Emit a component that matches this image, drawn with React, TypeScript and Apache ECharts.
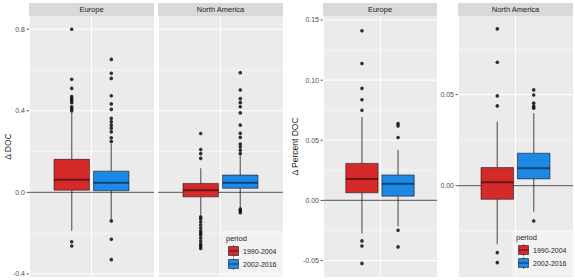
import React, { useEffect, useRef } from "react";
import * as echarts from "echarts";

// ---------- data ----------
const periods = ["1990-2004", "2002-2016"];
const regions = ["Europe", "North America"];

// box stats per period: [lower whisker, Q1, median, Q3, upper whisker]
const docEuropeStats = [
  [-0.188, 0.011, 0.062, 0.162, 0.39],
  [-0.132, 0.008, 0.047, 0.104, 0.24],
];
const docEuropeOutliers = [
  [0.8, 0.555, 0.51, 0.47, 0.46, 0.45, 0.44, 0.42, 0.41, 0.4, -0.242, -0.263],
  [0.652, 0.584, 0.559, 0.474, 0.434, 0.407, 0.363, 0.346, 0.33, 0.315, 0.297, 0.268, 0.25, -0.14, -0.23, -0.33],
];
const docNorthAmericaStats = [
  [-0.11, -0.022, 0.011, 0.044, 0.118],
  [-0.078, 0.02, 0.047, 0.085, 0.18],
];
const docNorthAmericaOutliers = [
  [0.289, 0.21, 0.19, 0.167, -0.12, -0.13, -0.145, -0.16, -0.175, -0.19, -0.2, -0.21, -0.225, -0.24, -0.255, -0.265, -0.275],
  [0.587, 0.502, 0.46, 0.44, 0.42, 0.39, 0.33, 0.29, 0.27, 0.237, 0.224, 0.207, 0.19, -0.082, -0.09, -0.1],
];
const pctEuropeStats = [
  [-0.0275, 0.0064, 0.0179, 0.0308, 0.0694],
  [-0.0215, 0.0036, 0.0138, 0.0212, 0.0419],
];
const pctEuropeOutliers = [
  [0.141, 0.1138, 0.0932, 0.0837, 0.075, -0.0336, -0.0378, -0.0523],
  [0.0639, 0.062, 0.0523, -0.0248, -0.0386],
];
const pctNorthAmericaStats = [
  [-0.0322, -0.0075, 0.0019, 0.0099, 0.0352],
  [-0.0143, 0.0037, 0.0096, 0.0178, 0.0398],
];
const pctNorthAmericaOutliers = [
  [0.0861, 0.0678, 0.0493, 0.0438, -0.0368, -0.0423],
  [0.0526, 0.0498, 0.0453, 0.0436, 0.0425, -0.0194],
];

// axis limits and ticks
const docLimits = [-0.415, 0.865];
const docMajor = [-0.4, 0.0, 0.4, 0.8];
const docMinor = [-0.2, 0.2, 0.6];
const pctEuLimits = [-0.0636, 0.1533];
const pctEuMajor = [-0.05, 0.0, 0.05, 0.1, 0.15];
const pctEuMinor = [-0.025, 0.025, 0.075, 0.125];
const pctNaLimits = [-0.0502, 0.0932];
const pctNaMajor = [0.0, 0.05];
const pctNaMinor = [-0.025, 0.025, 0.075];

const dodge = [-0.19, 0.19];

// ---------- style ----------
const FILLS = ["#D42A2A", "#1E88E5"];
const STROKE = "rgba(0,0,0,0.5)";
const BOX_W = 0.34;
const FONT = "Liberation Sans, Arial, sans-serif";

const panels = [
  { left: 29, width: 125, stats: docEuropeStats, out: docEuropeOutliers, lim: docLimits, major: docMajor, minor: docMinor, dec: 1, strip: regions[0], showAxis: true },
  { left: 158, width: 125, stats: docNorthAmericaStats, out: docNorthAmericaOutliers, lim: docLimits, major: docMajor, minor: docMinor, dec: 1, strip: regions[1], showAxis: false },
  { left: 323, width: 114, stats: pctEuropeStats, out: pctEuropeOutliers, lim: pctEuLimits, major: pctEuMajor, minor: pctEuMinor, dec: 2, strip: regions[0], showAxis: true },
  { left: 458, width: 115, stats: pctNorthAmericaStats, out: pctNorthAmericaOutliers, lim: pctNaLimits, major: pctNaMajor, minor: pctNaMinor, dec: 2, strip: regions[1], showAxis: true },
];
const titles = [
  { text: "Δ DOC", x: 8 },
  { text: "Δ Percent DOC", x: 295 },
];
const TOP = 16;
const HEIGHT = 261;

function renderBox(params: any, api: any) {
  const x = api.value(0);
  const lo = api.value(1), q1 = api.value(2), med = api.value(3), q3 = api.value(4), hi = api.value(5);
  const ci = api.value(6);
  const half = api.size([BOX_W, 0])[0] / 2;
  const cx = api.coord([x, lo])[0];
  const yLo = api.coord([x, lo])[1];
  const yQ1 = api.coord([x, q1])[1];
  const yMed = api.coord([x, med])[1];
  const yQ3 = api.coord([x, q3])[1];
  const yHi = api.coord([x, hi])[1];
  return {
    type: "group",
    children: [
      { type: "line", shape: { x1: cx, y1: yHi, x2: cx, y2: yQ3 }, style: { stroke: STROKE, lineWidth: 1.4 } },
      { type: "line", shape: { x1: cx, y1: yQ1, x2: cx, y2: yLo }, style: { stroke: STROKE, lineWidth: 1.4 } },
      { type: "rect", shape: { x: cx - half, y: yQ3, width: 2 * half, height: yQ1 - yQ3 }, style: { fill: FILLS[ci], stroke: STROKE, lineWidth: 1 } },
      { type: "line", shape: { x1: cx - half, y1: yMed, x2: cx + half, y2: yMed }, style: { stroke: STROKE, lineWidth: 2 } },
    ],
  };
}

function makeGridRenderer(dec: number, showAxis: boolean) {
  return function renderGrid(params: any, api: any) {
    const cs = params.coordSys;
    const kind = api.value(2);
    const v = api.value(1);
    const y = api.coord([api.value(0), v])[1];
    if (kind === 1) {
      return { type: "line", shape: { x1: cs.x, y1: y, x2: cs.x + cs.width, y2: y }, style: { stroke: "#ffffff", lineWidth: 0.5 } };
    }
    if (kind === 3) {
      return { type: "line", shape: { x1: cs.x, y1: y, x2: cs.x + cs.width, y2: y }, style: { stroke: "rgba(0,0,0,0.55)", lineWidth: 1.2 } };
    }
    const children: any[] = [
      { type: "line", shape: { x1: cs.x, y1: y, x2: cs.x + cs.width, y2: y }, style: { stroke: "#ffffff", lineWidth: 1.1 } },
    ];
    if (showAxis) {
      children.push(
        { type: "line", shape: { x1: cs.x - 2.5, y1: y, x2: cs.x, y2: y }, style: { stroke: "#333333", lineWidth: 0.8 } },
        { type: "text", style: { x: cs.x - 4, y, text: v.toFixed(dec), fontSize: 7, fontFamily: FONT, fill: "#4D4D4D", align: "right", verticalAlign: "middle" } },
      );
    }
    return { type: "group", children };
  };
}

function legendGraphic(x: number, y: number) {
  const children: any[] = [
    { type: "rect", shape: { x: 0, y: 0, width: 61, height: 46 }, style: { fill: "#F2F2F2" } },
    { type: "text", style: { x: 4, y: 7, text: "period", fontSize: 7.5, fontFamily: FONT, fill: "#1a1a1a", verticalAlign: "middle" } },
  ];
  periods.forEach((p, i) => {
    const cy = 20 + i * 13;
    children.push(
      { type: "line", shape: { x1: 11.5, y1: cy - 6, x2: 11.5, y2: cy + 6 }, style: { stroke: STROKE, lineWidth: 1 } },
      { type: "rect", shape: { x: 6.5, y: cy - 4.5, width: 10, height: 9 }, style: { fill: FILLS[i], stroke: STROKE, lineWidth: 1 } },
      { type: "line", shape: { x1: 6.5, y1: cy, x2: 16.5, y2: cy }, style: { stroke: STROKE, lineWidth: 1.2 } },
      { type: "text", style: { x: 21, y: cy, text: p, fontSize: 7, fontFamily: FONT, fill: "#1a1a1a", verticalAlign: "middle" } },
    );
  });
  return { type: "group", x, y, children, z: 100 };
}

export default function App() {
  const ref = useRef<HTMLDivElement>(null);
  useEffect(() => {
    if (!ref.current) return;
    const chart = echarts.init(ref.current, undefined, { renderer: "svg" });
    const grids: any[] = [];
    const xAxes: any[] = [];
    const yAxes: any[] = [];
    const series: any[] = [];
    const graphics: any[] = [];
    panels.forEach((p, i) => {
      grids.push({ left: p.left, top: TOP, width: p.width, height: HEIGHT, show: true, backgroundColor: "#EBEBEB", borderWidth: 0 });
      xAxes.push({
        gridIndex: i, type: "value", min: -0.6, max: 0.6, interval: 0.6, show: true,
        axisLine: { show: false }, axisTick: { show: false }, axisLabel: { show: false },
        splitLine: { show: true, lineStyle: { color: "#ffffff", width: 1.1 } },
      });
      yAxes.push({ gridIndex: i, type: "value", min: p.lim[0], max: p.lim[1], show: false, splitLine: { show: false } });
      const gridData: any[] = [];
      p.minor.forEach((v) => gridData.push([0, v, 1]));
      p.major.forEach((v) => gridData.push([0, v, 0]));
      gridData.push([0, 0, 3]);
      series.push({
        type: "custom", xAxisIndex: i, yAxisIndex: i, renderItem: makeGridRenderer(p.dec, p.showAxis),
        data: gridData, encode: { x: 0, y: 1 }, z: 1, silent: true, clip: false,
      });
      series.push({
        type: "custom", xAxisIndex: i, yAxisIndex: i, renderItem: renderBox,
        data: p.stats.map((s, k) => [dodge[k], ...s, k]), encode: { x: 0, y: [1, 2, 3, 4, 5] }, z: 3, silent: true,
      });
      const pts: number[][] = [];
      p.out.forEach((arr, k) => arr.forEach((v) => pts.push([dodge[k], v])));
      series.push({
        type: "scatter", xAxisIndex: i, yAxisIndex: i, data: pts, symbol: "circle", symbolSize: 3.6,
        itemStyle: { color: "#000000" }, z: 4, silent: true,
      });
      graphics.push({ type: "rect", shape: { x: p.left, y: 3, width: p.width, height: TOP - 3 }, style: { fill: "#D9D9D9" } });
      graphics.push({
        type: "text",
        style: { x: p.left + p.width / 2, y: 3 + (TOP - 3) / 2, text: p.strip, fontSize: 7.5, fontFamily: FONT, fill: "#1A1A1A", align: "center", verticalAlign: "middle" },
      });
    });
    titles.forEach((t) => {
      graphics.push({
        type: "text", x: t.x, y: TOP + HEIGHT / 2, rotation: Math.PI / 2,
        style: { x: 0, y: 0, text: t.text, fontSize: 8.5, fontFamily: FONT, fill: "#1A1A1A", align: "center", verticalAlign: "middle" },
      });
    });
    graphics.push(legendGraphic(222, 231));
    graphics.push(legendGraphic(512, 230));
    chart.setOption({ animation: false, backgroundColor: "#ffffff", grid: grids, xAxis: xAxes, yAxis: yAxes, series, graphic: graphics });
    return () => chart.dispose();
  }, []);
  return <div ref={ref} style={{ width: 575, height: 280, position: "absolute", left: 0, top: 0 }} />;
}
